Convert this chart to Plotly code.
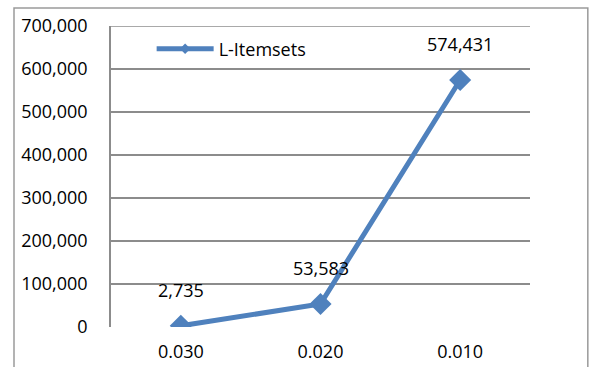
import plotly.graph_objects as go

# Minimum support thresholds and the number of large itemsets found at each
support = ["0.030", "0.020", "0.010"]
itemsets = [2735, 53583, 574431]
y_ticks = [0, 100000, 200000, 300000, 400000, 500000, 600000, 700000]

BLUE = "#4F81BD"
GRID = "#8C8C8C"
FONT = "Open Sans"

fig = go.Figure()
fig.add_trace(go.Scatter(
    x=support, y=itemsets, name="L-Itemsets",
    mode="lines+markers", showlegend=False, legendgroup="L",
    line=dict(color=BLUE, width=5),
    marker=dict(symbol="diamond", size=17, color=BLUE),
))
# legend entry with a smaller key marker
fig.add_trace(go.Scatter(
    x=[None], y=[None], name="L-Itemsets",
    mode="lines+markers", legendgroup="L",
    line=dict(color=BLUE, width=5),
    marker=dict(symbol="diamond", size=8, color=BLUE),
))

# value labels above each point (category index used as x position)
for i, v in enumerate(itemsets):
    fig.add_annotation(x=i, y=v, text=f"{v:,}", showarrow=False,
                       yshift=36, font=dict(family=FONT, size=18, color="black"))

# outer chart frame
fig.add_shape(type="rect", xref="paper", yref="paper",
              x0=-0.2315, x1=1.138, y0=-0.2, y1=1.0598,
              line=dict(color="#9A9A9A", width=1.5), fillcolor="rgba(0,0,0,0)",
              layer="below")

# gridline at the top of the value range
fig.add_shape(type="line", xref="paper", yref="y", x0=0, x1=1,
              y0=y_ticks[-1], y1=y_ticks[-1],
              line=dict(color=GRID, width=1.5), layer="below")

fig.update_layout(
    width=592, height=367,
    margin=dict(l=111, r=62, t=26, b=40),
    paper_bgcolor="white", plot_bgcolor="white",
    font=dict(family=FONT, size=18, color="black"),
    showlegend=True,
    legend=dict(x=0.097, y=0.985, xanchor="left", yanchor="top",
                bgcolor="rgba(0,0,0,0)", itemwidth=57,
                font=dict(family=FONT, size=18, color="black")),
    xaxis=dict(type="category", range=[-0.5, 2.5], showgrid=False,
               showline=False, zeroline=False, automargin=False,
               ticks="outside", ticklen=8, tickcolor="rgba(0,0,0,0)"),
    yaxis=dict(range=[0, 700000], tickvals=y_ticks, tickformat=",d",
               showgrid=True, gridcolor=GRID, gridwidth=1.5,
               showline=True, linecolor=GRID, linewidth=1.5,
               zeroline=False, automargin=False,
               ticks="outside", ticklen=18, tickcolor="rgba(0,0,0,0)"),
)

fig.write_html("out.html")
